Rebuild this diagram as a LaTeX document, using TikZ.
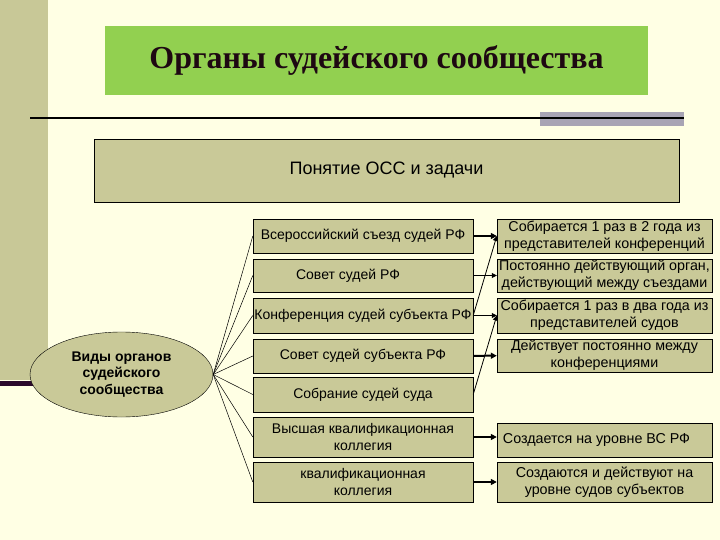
\documentclass[tikz,border=0pt]{standalone}
\usepackage{fontspec}
\setmainfont{Liberation Sans}
\newfontfamily\titlefont{Liberation Serif}
\usepackage{xcolor}
\usepackage{tikz}
\usetikzlibrary{arrows.meta,shapes.geometric}

\definecolor{slidecream}{HTML}{FFFFE4}
\definecolor{slidetan}{HTML}{C9C998}
\definecolor{stripetan}{HTML}{C8C897}
\definecolor{slidegreen}{HTML}{92D050}
\definecolor{barmauve}{HTML}{A8A4B4}
\definecolor{barplum}{HTML}{2C0A2C}
\definecolor{titleink}{HTML}{1E0812}

\begin{document}
\begin{tikzpicture}[x=1pt,y=-1pt,
    orgbox/.style={draw,fill=slidetan,minimum width=220pt,inner sep=0pt,
        align=center,font=\fontsize{14}{17}\selectfont},
    notebox/.style={orgbox,minimum width=215pt,font=\fontsize{14.3}{17}\selectfont},
    spoke/.style={line width=0.5pt},
    feed/.style={line width=0.8pt,-{Triangle[length=5pt,width=5pt]}},
    push/.style={line width=2pt,-{Triangle[length=6pt,width=6pt]}}]
    \useasboundingbox (0,0) rectangle (720,540);
    \fill[slidecream] (0,0) rectangle (720,540);

    % slide template
    \fill[stripetan] (0,0) rectangle (48,380);
    \fill[barplum] (0,381) rectangle (40,386);
    \fill[barmauve] (540,112) rectangle (684,126);
    \draw[line width=2pt] (30,118) -- (684,118);

    % title
    \node[fill=slidegreen,minimum width=543pt,minimum height=69pt,
        text=titleink,font=\titlefont\bfseries\fontsize{32}{34}\selectfont]
        (title) at (376.5,61) {Органы судейского сообщества};

    \node[draw,fill=slidetan,minimum width=585pt,minimum height=63pt,
        font=\fontsize{18}{20}\selectfont] (idea) at (386.5,170.5)
        {Понятие ОСС и задачи};

    % kinds of bodies
    \node[draw,fill=slidetan,ellipse,minimum width=183pt,minimum height=85pt,
        align=center,font=\bfseries\fontsize{14}{16.5}\selectfont]
        (kinds) at (121.5,374.5) {Виды органов\\судейского\\сообщества};

    \node[orgbox,minimum height=34pt] (L1) at (363,236) {Всероссийский съезд судей РФ};
    \node[orgbox,minimum height=33pt] (L2) at (363,275.5) {Совет судей РФ\hspace{30pt}};
    \node[orgbox,minimum height=35pt] (L3) at (363,315.5) {Конференция судей субъекта РФ};
    \node[orgbox,minimum height=34pt] (L4) at (363,356) {Совет судей субъекта РФ};
    \node[orgbox,minimum height=35pt] (L5) at (363,394.5) {Собрание судей суда};
    \node[orgbox,minimum height=40pt] (L6) at (363,437) {Высшая квалификационная\\коллегия};
    \node[orgbox,minimum height=40pt] (L7) at (363,482) {квалификационная\\коллегия};

    \node[notebox,minimum height=34pt] (R1) at (604.5,236)
        {Собирается 1 раз в 2 года из\\представителей конференций};
    \node[notebox,minimum height=33pt] (R2) at (604.5,275.5)
        {Постоянно действующий орган,\\действующий между съездами};
    \node[notebox,minimum height=35pt] (R3) at (604.5,315.5)
        {Собирается 1 раз в два года из\\представителей судов};
    \node[notebox,minimum height=33pt] (R4) at (604.5,355.5)
        {Действует постоянно между\\конференциями};
    \node[notebox,minimum height=34pt] (R5) at (604.5,440)
        {Создается на уровне ВС РФ\hspace{16pt}};
    \node[notebox,minimum height=40pt] (R6) at (604.5,482)
        {Создаются и действуют на\\уровне судов субъектов};

    \foreach \k in {1,...,7}
        \draw[spoke] (kinds.east) -- (L\k.west);

    \draw[push] (L1) -- (R1);
    \draw[feed] (L2) -- (R2);
    \draw[feed] (L3) -- (R3);
    \draw[push] (L4) -- (R4);
    \draw[push] (L6.east) -- (L6.east -| R5.west);
    \draw[push] (L7) -- (R6);
    \draw[feed] (L3.east) -- (R1.west);
    \draw[feed] (L5.east) -- (R3.west);
\end{tikzpicture}
\end{document}
